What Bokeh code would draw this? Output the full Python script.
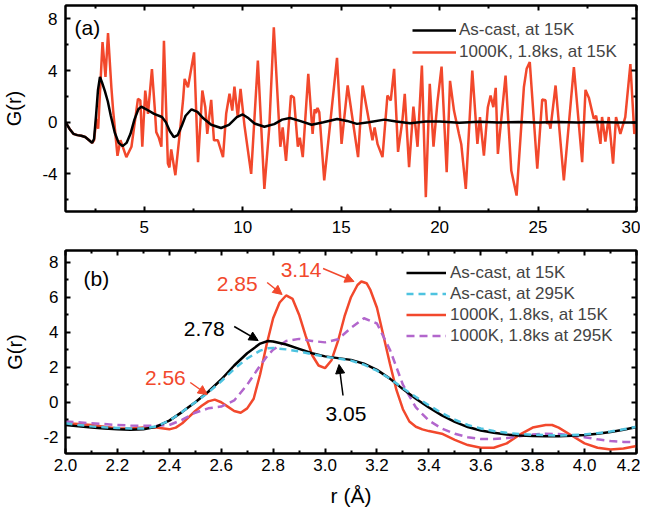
from bokeh.plotting import figure
from bokeh.layouts import column
from bokeh.models import (Range1d, LinearAxis, FixedTicker, Label, Arrow, NormalHead,
                          Legend, LegendItem, PrintfTickFormatter)
from bokeh.embed import file_html
from bokeh.resources import INLINE

FONT = "Liberation Sans"
RED = "#f2482c"
CYAN = "#4ec3e0"
PURPLE = "#b266cc"

# ---------------- Panel (a) data: G(r) over 1..30 A ----------------
a_black_x = [1.0, 1.2, 1.4, 1.6, 1.8, 2.0, 2.2, 2.35, 2.45, 2.55, 2.65, 2.75, 2.85, 3.0, 3.15,
             3.3, 3.5, 3.7, 3.9, 4.1, 4.3, 4.5, 4.7, 4.85, 5.1, 5.5, 5.9, 6.1, 6.3, 6.5, 6.7,
             6.9, 7.1, 7.4, 7.7, 8.0, 8.4, 8.9, 9.3, 9.7, 10.0, 10.3, 10.6, 11.1, 11.6, 12.0,
             12.4, 12.9, 13.5, 14.1, 14.8, 15.3, 15.8, 16.4, 17.2, 17.8, 18.5, 19.3, 20.0, 21.0,
             22.0, 23.0, 24.0, 25.0, 26.0, 27.0, 28.0, 29.0, 30.0]
a_black_y = [0.0, -0.5, -0.9, -1.0, -1.05, -1.15, -1.4, -1.6, -1.3, 0.5, 2.5, 3.5, 3.1, 2.4, 1.6,
             0.5, -0.8, -1.6, -1.85, -1.6, -0.9, 0.2, 1.0, 1.2, 1.0, 0.65, 0.4, 0.0, -0.7, -1.15, -1.0,
             -0.3, 0.5, 1.0, 0.8, 0.3, -0.2, -0.45, -0.2, 0.4, 0.6, 0.3, -0.1, -0.35, -0.15, 0.2,
             0.33, 0.1, -0.2, 0.0, 0.25, 0.1, -0.13, 0.0, 0.2, 0.05, -0.08, 0.05, 0.05, -0.05,
             0.03, -0.03, 0.02, -0.02, 0.02, -0.02, 0.02, -0.02, -0.02]

a_red_x = [1.0, 1.2, 1.4, 1.6, 1.8, 2.0, 2.2, 2.35, 2.45, 2.57, 2.66, 2.88, 3.03, 3.16, 3.33, 3.42,
           3.64, 3.79, 3.92, 4.09, 4.35, 4.68, 4.8, 4.9, 5.05, 5.19, 5.39, 5.53, 5.61, 5.73, 5.87,
           6.0, 6.2, 6.28, 6.37, 6.58, 6.8, 6.97, 7.05, 7.22, 7.53, 7.73, 7.95, 8.1, 8.2, 8.4,
           8.54, 8.74, 9.0, 9.16, 9.33, 9.47, 9.58, 9.75, 9.89, 10.09, 10.43, 10.77, 11.1, 11.35,
           11.58, 11.91, 12.03, 12.2, 12.45, 12.6, 12.8, 12.9, 13.05, 13.33, 13.55, 13.65, 13.72,
           13.8, 13.89, 14.14, 14.79, 15.02, 15.33, 15.86, 16.09, 16.59, 16.7, 16.85, 17.1, 17.35,
           17.52, 17.69, 17.89, 18.11, 18.23, 18.45, 18.67, 18.88, 19.1, 19.3, 19.5, 19.69, 19.89,
           20.1, 20.36, 20.53, 20.73, 20.98, 21.1, 21.33, 21.66, 21.92, 22.05, 22.25, 22.45, 22.59,
           22.73, 22.85, 22.96, 23.35, 23.64, 23.91, 24.28, 24.42, 24.58, 24.96, 25.21, 25.38,
           25.46, 25.55, 25.63, 25.89, 26.31, 26.82, 27.24, 27.41, 27.58, 27.83, 27.95, 28.17,
           28.25, 28.42, 28.59, 28.81, 28.96, 29.18, 29.43, 29.69, 29.89, 30.0]
a_red_y = [0.0, -0.5, -0.9, -1.0, -1.05, -1.15, -1.4, -1.6, -1.4, 0.25, -0.5, 6.2, 3.5, 6.9, 2.7, 0.9,
           -2.6, -1.4, -1.95, -2.7, -1.9, 1.8, 1.7, -1.9, 2.45, 0.65, 4.1, 1.15, -0.77, -1.16, -1.9,
           6.3, -3.2, -3.5, -2.1, -4.1, -0.9, 1.7, 3.35, 2.7, 5.4, -3.1, 2.45, 1.15, -0.9, 1.73,
           -1.4, -1.4, -2.7, 0.65, 2.2, 0.9, 2.76, 0.39, 2.58, -0.26, -4.0, 4.77, -5.16, -0.4,
           7.35, -1.9, -0.4, -3.0, 2.06, 1.9, -1.9, -1.2, -2.7, 3.74, -0.9, 1.0, 0.7,
           1.1, 0.77, -4.5, 4.98, -1.68, 2.84, -2.7, 2.84, -1.4, -0.4, -1.7, -2.7, 2.06,
           1.68, 4.13, -2.3, 0.13, 2.19, -3.48, 1.2, -1.9, 4.39, -5.8, 2.97, -1.9, 1.55,
           4.3, -3.87, 3.2, 0.9, -0.9, -1.7, -5.16, 4.0, -1.68, 0.4, -2.58, 1.16, 2.06,
           1.16, 2.66, -2.45, 3.6, -3.74, -5.68, 2.7, 4.13, 4.65, -3.6, 1.75, 1.7,
           -0.13, 0.1, -0.5, 2.84, -4.5, 4.26, -3.1, 2.5, 1.9, 0.26, 0.5, -1.68,
           0.4, -1.5, 0.4, -3.2, 0.4, -0.9, 0.4, 4.5, -0.9, -0.5]

# ---------------- Panel (b) data: G(r) over 2.0..4.2 A ----------------
b_x = [2.0, 2.05, 2.1, 2.15, 2.2, 2.25, 2.3, 2.35, 2.4, 2.45, 2.5, 2.55, 2.6, 2.65, 2.7, 2.75,
       2.78, 2.8, 2.85, 2.9, 2.95, 3.0, 3.05, 3.1, 3.15, 3.2, 3.25, 3.3, 3.35, 3.4, 3.45, 3.5,
       3.55, 3.6, 3.65, 3.7, 3.75, 3.8, 3.85, 3.9, 3.95, 4.0, 4.05, 4.1, 4.15, 4.2]
b_cast15 = [-1.3, -1.38, -1.45, -1.5, -1.55, -1.57, -1.55, -1.4, -1.05, -0.55, 0.0, 0.6, 1.3, 2.1,
            2.8, 3.35, 3.5, 3.47, 3.3, 3.05, 2.8, 2.62, 2.52, 2.42, 2.2, 1.85, 1.35, 0.75, 0.2,
            -0.3, -0.75, -1.12, -1.42, -1.62, -1.75, -1.85, -1.9, -1.93, -1.95, -1.95, -1.92,
            -1.87, -1.8, -1.7, -1.57, -1.42]
b_cast295 = [-1.2, -1.3, -1.38, -1.43, -1.47, -1.5, -1.5, -1.38, -1.05, -0.55, 0.0, 0.55, 1.2, 1.9,
             2.5, 2.95, 3.08, 3.1, 3.02, 2.9, 2.75, 2.6, 2.5, 2.38, 2.15, 1.8, 1.35, 0.8, 0.3,
             -0.18, -0.62, -1.0, -1.3, -1.5, -1.65, -1.75, -1.82, -1.86, -1.88, -1.9, -1.88,
             -1.84, -1.77, -1.67, -1.55, -1.4]
b_ann295 = [-1.1, -1.15, -1.2, -1.25, -1.3, -1.33, -1.35, -1.35, -1.3, -1.0, -0.6, -0.35, -0.25,
            0.1, 1.0, 2.1, 2.7, 3.0, 3.5, 3.62, 3.5, 3.42, 3.6, 4.25, 4.8, 4.5, 3.0, 1.0, -0.3,
            -1.05, -1.5, -1.8, -2.0, -2.1, -2.1, -2.05, -1.95, -1.85, -1.8, -1.82, -1.9, -2.0,
            -2.12, -2.22, -2.27, -2.28]
b_ann15_x = [2.0, 2.05, 2.1, 2.15, 2.2, 2.25, 2.3, 2.35, 2.4, 2.425, 2.45, 2.475, 2.5, 2.525, 2.55,
             2.575, 2.6, 2.625, 2.65, 2.675, 2.7, 2.725, 2.75, 2.775, 2.8, 2.825, 2.85, 2.875,
             2.9, 2.925, 2.95, 2.975, 3.0, 3.025, 3.05, 3.075, 3.1, 3.125, 3.14, 3.16, 3.175,
             3.2, 3.225, 3.25, 3.275, 3.3, 3.325, 3.35, 3.375, 3.4, 3.45, 3.5, 3.55, 3.6, 3.65,
             3.7, 3.75, 3.8, 3.85, 3.875, 3.9, 3.95, 4.0, 4.05, 4.1, 4.15, 4.2]
b_ann15_y = [-1.2, -1.25, -1.3, -1.4, -1.5, -1.5, -1.45, -1.45, -1.55, -1.45, -1.2, -0.85, -0.5,
             -0.2, 0.05, 0.15, 0.0, -0.25, -0.5, -0.6, -0.35, 0.2, 1.6, 3.3, 4.8, 5.7, 6.1, 5.9,
             5.0, 3.8, 2.7, 2.1, 1.95, 2.4, 3.5, 4.9, 6.0, 6.7, 6.9, 6.8, 6.4, 5.4, 3.8, 2.2,
             0.7, -0.4, -1.1, -1.4, -1.55, -1.65, -1.8, -2.15, -2.45, -2.6, -2.6, -2.35, -1.85,
             -1.45, -1.3, -1.3, -1.45, -1.9, -2.35, -2.6, -2.7, -2.65, -2.5]

# tick values
a_xticks = [5, 10, 15, 20, 25, 30]
a_xminor = [2.5, 7.5, 12.5, 17.5, 22.5, 27.5]
a_yticks = [-4, 0, 4, 8]
a_yminor = [-6, -2, 2, 6]
b_xticks = [2.0, 2.2, 2.4, 2.6, 2.8, 3.0, 3.2, 3.4, 3.6, 3.8, 4.0, 4.2]
b_xminor = [2.1, 2.3, 2.5, 2.7, 2.9, 3.1, 3.3, 3.5, 3.7, 3.9, 4.1]
b_yticks = [-2, 0, 2, 4, 6, 8]
b_yminor = [-1, 1, 3, 5, 7]

# peak labels in panel (b)
peak_labels = ["2.56", "2.85", "3.14", "2.78", "3.05"]

# ---------------- layout geometry (page pixels) ----------------
A_X = (1.0, 30.0)
A_Y = (-6.91, 9.03)
B_X = (2.0, 4.2)
B_Y = (-2.93, 8.67)
FL, FR = 64, 636
A_T, A_B = 5, 211
B_T, B_B = 250, 453
A_H = 244          # figure (a) height; figure (b) starts here
B_H = 268


def conv(xr, yr, top, bottom):
    def fx(px):
        return xr[0] + (px - FL) / (FR - FL) * (xr[1] - xr[0])

    def fy(py):
        return yr[1] - (py - top) / (bottom - top) * (yr[1] - yr[0])
    return fx, fy


ax_fx, ax_fy = conv(A_X, A_Y, A_T, A_B)
bx_fx, bx_fy = conv(B_X, B_Y, B_T, B_B)


def dress(p, xt, xm, yt, ym, xfmt, xstand, ystand):
    p.xgrid.visible = False
    p.ygrid.visible = False
    p.outline_line_color = "black"
    p.outline_line_width = 2
    bx = p.xaxis[0]
    ly = p.yaxis[0]
    bx.ticker = FixedTicker(ticks=xt, minor_ticks=xm)
    ly.ticker = FixedTicker(ticks=yt, minor_ticks=ym)
    if xfmt:
        bx.formatter = PrintfTickFormatter(format=xfmt)
    ly.major_label_overrides = {t: str(t) for t in yt}
    top = LinearAxis(ticker=FixedTicker(ticks=xt, minor_ticks=xm))
    right = LinearAxis(ticker=FixedTicker(ticks=yt, minor_ticks=ym))
    top.major_label_overrides = {t: "" for t in xt}
    right.major_label_overrides = {t: "" for t in yt}
    p.add_layout(top, "above")
    p.add_layout(right, "right")
    for ax in (bx, ly, top, right):
        ax.major_tick_in = 5
        ax.major_tick_out = 0
        ax.minor_tick_in = 3
        ax.minor_tick_out = 0
        ax.axis_line_width = 2
        ax.major_tick_line_width = 2
        ax.minor_tick_line_width = 2
        ax.axis_line_color = "black"
        ax.major_tick_line_color = "black"
        ax.minor_tick_line_color = "black"
        ax.major_label_text_font = FONT
        ax.major_label_text_font_size = "17px"
        ax.major_label_text_color = "black"
        ax.axis_label_text_font = FONT
        ax.axis_label_text_font_style = "normal"
        ax.axis_label_text_color = "black"
    bx.major_label_standoff = xstand
    ly.major_label_standoff = ystand
    for ax in (top, right):
        ax.major_label_standoff = 0
    ly.axis_label = "G(r)"
    ly.axis_label_text_font_size = "20px"
    ly.axis_label_standoff = 14
    return bx


def label(p, x, y, text, size, color="black", align="left"):
    p.add_layout(Label(x=x, y=y, text=text, text_font=FONT, text_font_size=size,
                       text_color=color, text_align=align, text_baseline="middle"))


# ---------------- Panel (a) ----------------
pa = figure(width=640, height=A_H, output_backend="svg", toolbar_location=None,
            x_range=Range1d(*A_X), y_range=Range1d(*A_Y),
            min_border_left=FL, min_border_right=640 - FR, min_border_top=A_T,
            min_border_bottom=A_H - A_B)
dress(pa, a_xticks, a_xminor, a_yticks, a_yminor, None, 9, 8)
ra = pa.line(a_red_x, a_red_y, line_color=RED, line_width=2.5)
ka = pa.line(a_black_x, a_black_y, line_color="black", line_width=2.5)
lega = Legend(items=[LegendItem(label="As-cast, at 15K", renderers=[ka]),
                     LegendItem(label="1000K, 1.8ks, at 15K", renderers=[ra])],
              location=(347, 148))
for k, v in dict(glyph_width=44, glyph_height=22, label_height=22, label_standoff=3,
                 padding=0, margin=0, spacing=0, border_line_color=None,
                 background_fill_alpha=0, label_text_font=FONT,
                 label_text_font_size="17px").items():
    setattr(lega, k, v)
pa.add_layout(lega)
label(pa, ax_fx(73), ax_fy(27), "(a)", "21px")

# ---------------- Panel (b) ----------------
pb = figure(width=640, height=B_H, output_backend="svg", toolbar_location=None,
            x_range=Range1d(*B_X), y_range=Range1d(*B_Y),
            min_border_left=FL, min_border_right=640 - FR, min_border_top=B_T - A_H,
            min_border_bottom=A_H + B_H - B_B)
bxb = dress(pb, b_xticks, b_xminor, b_yticks, b_yminor, "%.1f", 5, 7)
bxb.axis_label = "r (Å)"
bxb.axis_label_text_font_size = "21px"
bxb.axis_label_standoff = 10
r_red = pb.line(b_ann15_x, b_ann15_y, line_color=RED, line_width=2.5)
r_pur = pb.line(b_x, b_ann295, line_color=PURPLE, line_width=2.5, line_dash="8 5")
r_blk = pb.line(b_x, b_cast15, line_color="black", line_width=2.5)
r_cyn = pb.line(b_x, b_cast295, line_color=CYAN, line_width=2.5, line_dash="7 5")
legb = Legend(items=[LegendItem(label="As-cast, at 15K", renderers=[r_blk]),
                     LegendItem(label="As-cast, at 295K", renderers=[r_cyn]),
                     LegendItem(label="1000K, 1.8ks, at 15K", renderers=[r_red]),
                     LegendItem(label="1000K, 1.8ks at 295K", renderers=[r_pur])],
              location=(341, 107))
for k, v in dict(glyph_width=40, glyph_height=21, label_height=21, label_standoff=4,
                 padding=0, margin=0, spacing=0, border_line_color=None,
                 background_fill_alpha=0, label_text_font=FONT,
                 label_text_font_size="17px").items():
    setattr(legb, k, v)
pb.add_layout(legb)
label(pb, bx_fx(82), bx_fy(278), "(b)", "21px")

# peak annotations: (text, colour, text centre px, arrow start px, arrow end px)
ann = [
    (peak_labels[0], RED, (164, 377), (189, 382), (206, 394)),
    (peak_labels[1], RED, (236, 283), (266, 282), (281, 294)),
    (peak_labels[2], RED, (300, 269), (322, 268), (353, 281)),
    (peak_labels[3], "black", (203, 328), (233, 326), (257, 340)),
    (peak_labels[4], "black", (345, 413), (342, 395), (338, 364)),
]
for txt, col, (tx, ty), (sx, sy), (ex, ey) in ann:
    label(pb, bx_fx(tx), bx_fy(ty), txt, "21px", color=col, align="center")
    pb.add_layout(Arrow(end=NormalHead(size=9, fill_color=col, line_color=col),
                        x_start=bx_fx(sx), y_start=bx_fy(sy), x_end=bx_fx(ex), y_end=bx_fy(ey),
                        line_color=col, line_width=1.5))

page = column(pa, pb)
open("out.html", "w").write(file_html(page, INLINE))
